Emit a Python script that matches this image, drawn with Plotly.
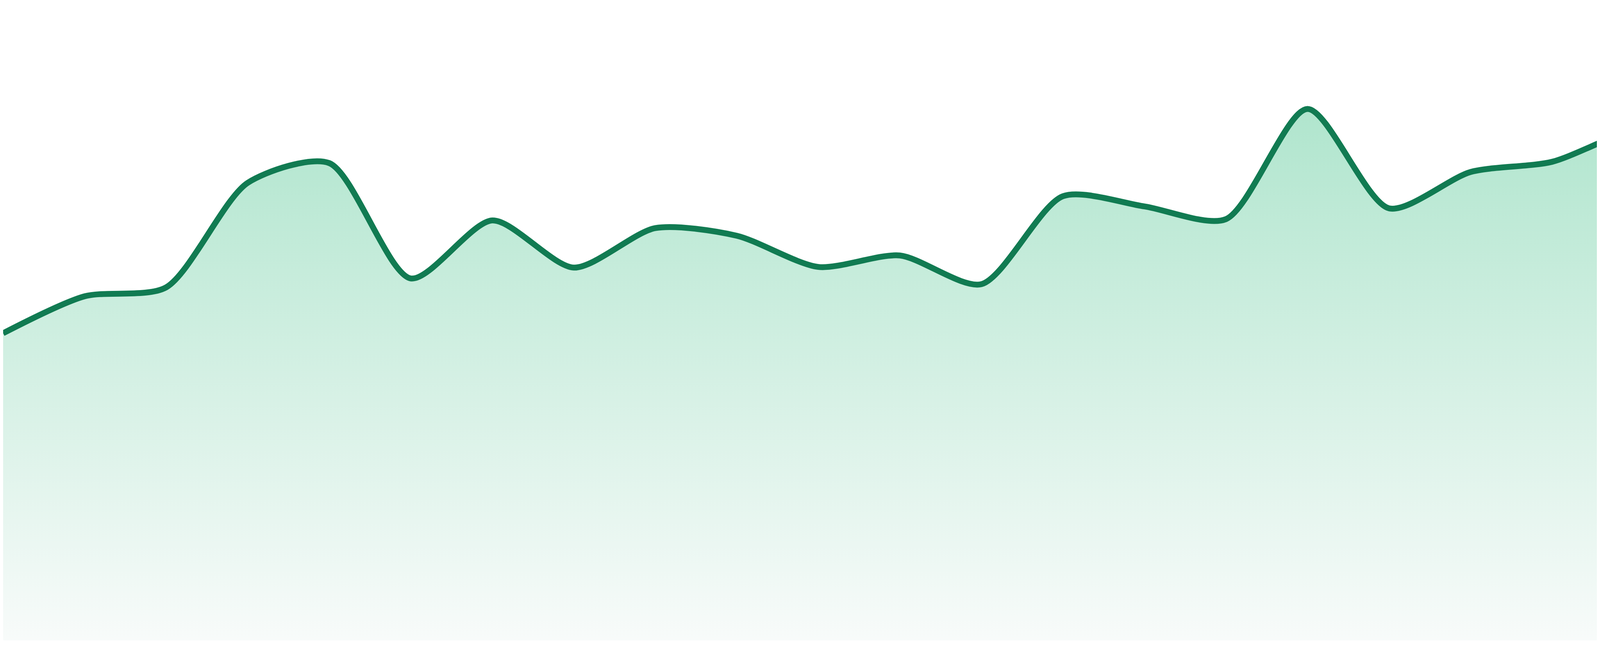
import plotly.graph_objects as go

# one point per period, 24 periods
periods = list(range(24))
values = [48.2, 54.0, 55.4, 71.8, 74.9, 56.8, 65.9, 58.5, 64.7, 63.5, 58.6, 60.4,
          55.9, 69.7, 68.1, 66.1, 83.4, 67.8, 73.5, 75.1, 80.0, 80.3, 87.6, 86.8]

line_color = '#117b52'

fig = go.Figure()
fig.add_trace(go.Scatter(
    x=periods,
    y=values,
    mode='lines',
    line=dict(color=line_color, width=15, shape='spline', smoothing=0.75),
    fill='tozeroy',
    fillgradient=dict(
        type='vertical',
        start=0,
        stop=88,
        colorscale=[[0, '#f8fbfa'], [1, '#ace4cb']],
    ),
    hoverinfo='skip',
))

fig.update_layout(
    width=4800,
    height=1680,
    margin=dict(l=0, r=0, t=0, b=48),
    paper_bgcolor='white',
    plot_bgcolor='white',
    showlegend=False,
    xaxis=dict(visible=False, range=[0, 23]),
    yaxis=dict(visible=False, range=[0, 100]),
)

fig.write_html("out.html")
